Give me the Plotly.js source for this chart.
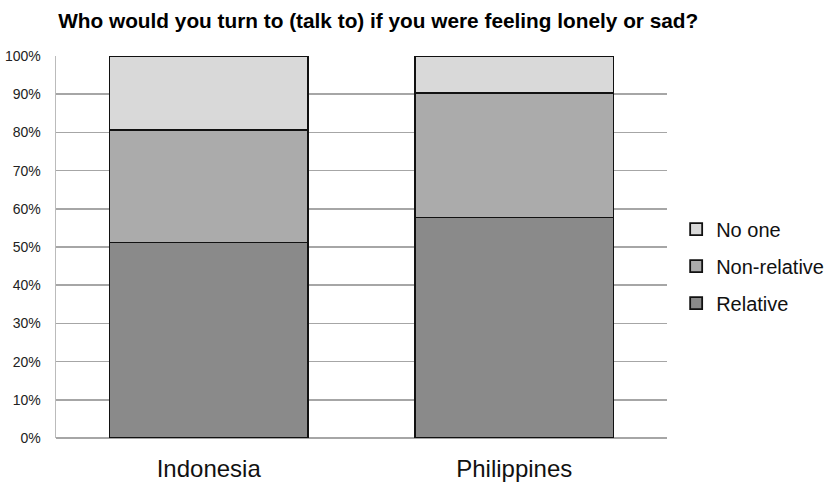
<!DOCTYPE html>
<html>
<head>
<meta charset="utf-8">
<script src="https://cdn.plot.ly/plotly-3.0.1.min.js"></script>
<style>html,body{margin:0;padding:0;background:#fff;}#chart{width:831px;height:483px;}</style>
</head>
<body>
<div id="chart"></div>
<script>
var countries = ["Indonesia", "Philippines"];
var relative = [51.2, 57.7];
var nonRelative = [29.5, 32.7];
var noOne = [19.3, 9.6];
var yTickVals = [0, 10, 20, 30, 40, 50, 60, 70, 80, 90, 100];
var yTickText = ["0%", "10%", "20%", "30%", "40%", "50%", "60%", "70%", "80%", "90%", "100%"];

var line = {color: "#111", width: 1.8};
var traces = [
  {type: "bar", name: "Relative", x: countries, y: relative, marker: {color: "#8a8a8a", line: line}, legendrank: 3, legendgroup: "r"},
  {type: "bar", name: "Non-relative", x: countries, y: nonRelative, marker: {color: "#ababab", line: line}, legendrank: 2, legendgroup: "n"},
  {type: "bar", name: "No one", x: countries, y: noOne, marker: {color: "#d9d9d9", line: line}, legendrank: 1, legendgroup: "o"}
];

var layout = {
  width: 831, height: 483,
  margin: {l: 56, r: 164, t: 56, b: 45, autoexpand: false},
  paper_bgcolor: "#fff", plot_bgcolor: "#fff",
  barmode: "stack",
  bargap: 0.35,
  title: {text: "Who would you turn to (talk to) if you were feeling lonely or sad?", x: 0.07, xanchor: "left", y: 0.958, yanchor: "middle",
          font: {family: "Liberation Sans, Arial", size: 20.8, color: "#000", weight: "bold"}},
  xaxis: {tickfont: {family: "Liberation Sans, Arial", size: 24, color: "#111"}, showline: false, ticks: "", showgrid: false, ticklabelstandoff: 14},
  yaxis: {range: [0, 100], tickvals: yTickVals, ticktext: yTickText, tickfont: {family: "Liberation Sans, Arial", size: 14, color: "#222"},
          showgrid: true, gridcolor: "#a6a6a6", gridwidth: 1.6, showline: true, linecolor: "#bbbbbb", linewidth: 1.5,
          zeroline: true, zerolinecolor: "#a6a6a6", zerolinewidth: 1.6, ticks: "", ticklabelstandoff: 11},
  legend: {x: 1.015, xanchor: "left", y: 0.45, yanchor: "middle", traceorder: "grouped", tracegroupgap: 8,
           font: {family: "Liberation Sans, Arial", size: 20, color: "#111"}, itemwidth: 30},
  showlegend: true
};

Plotly.newPlot("chart", traces, layout, {displayModeBar: false, staticPlot: true});
</script>
</body>
</html>
